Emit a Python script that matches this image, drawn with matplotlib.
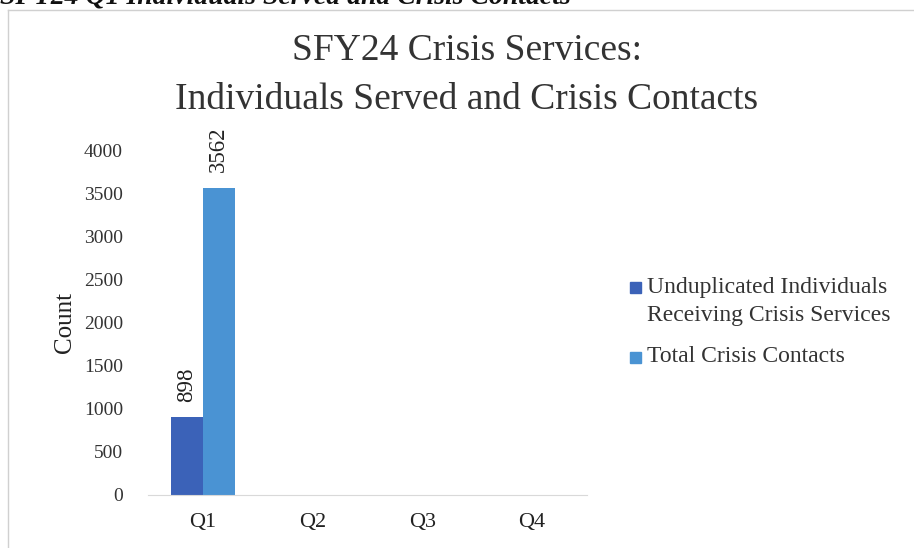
import numpy as np
import matplotlib.pyplot as plt
from matplotlib.patches import Rectangle

quarters = ['Q1', 'Q2', 'Q3', 'Q4']
individuals = [898, 0, 0, 0]
contacts = [3562, 0, 0, 0]
series_names = ['Unduplicated Individuals\nReceiving Crisis Services', 'Total Crisis Contacts']
yticks = [0, 500, 1000, 1500, 2000, 2500, 3000, 3500, 4000]

plt.rcParams['font.family'] = ['Liberation Serif', 'DejaVu Serif']

fig = plt.figure(figsize=(9.14, 5.48), dpi=100)
ax = fig.add_axes([0.162, 0.097, 0.48, 0.629])

x = np.arange(len(quarters))
w = 0.29
colors = ['#3b62b8', '#4a93d3']
b1 = ax.bar(x - w / 2, individuals, w, color=colors[0])
b2 = ax.bar(x + w / 2, contacts, w, color=colors[1])

# value labels only where there is a bar
for bars, vals in ((b1, individuals), (b2, contacts)):
    for r, v in zip(bars, vals):
        if v > 0:
            ax.text(r.get_x() + r.get_width() / 2, v + 180, str(v), rotation=90,
                    ha='center', va='bottom', fontsize=16.5, color='#222222')

ax.set_xlim(-0.5, 3.5)
ax.set_ylim(0, 4000)
ax.set_xticks(x)
ax.set_xticklabels(quarters, fontsize=16, color='#222222')
ax.set_yticks(yticks)
ax.set_yticklabels([str(t) for t in yticks], fontsize=14, color='#333333')
ax.tick_params(axis='both', length=0)
ax.tick_params(axis='x', pad=13)
ax.tick_params(axis='y', pad=18)
for s in ['top', 'right', 'left']:
    ax.spines[s].set_visible(False)
ax.spines['bottom'].set_color('#d9d9d9')
ax.set_ylabel('Count', fontsize=18, color='#222222', labelpad=6)

# legend: square beside the first line of each entry
W, H = fig.get_size_inches() * fig.dpi
entry_y = [287, 357]
line_gap = 29
for name, col, y0 in zip(series_names, colors, entry_y):
    fig.add_artist(Rectangle((630 / W, 1 - (y0 + 5.5) / H), 11 / W, 11 / H,
                             transform=fig.transFigure, color=col))
    for i, line in enumerate(name.split('\n')):
        fig.text(647 / W, 1 - (y0 + i * line_gap) / H, line, ha='left', va='center',
                 fontsize=17, color='#333333')

fig.text(0.511, 0.863, 'SFY24 Crisis Services:\nIndividuals Served and Crisis Contacts',
         ha='center', va='center', fontsize=27, color='#333333', linespacing=1.55)

# page heading cut off above the chart frame
fig.text(0.0, 1.005, 'SFY24 Q1 Individuals Served and Crisis Contacts', ha='left',
         va='center', fontsize=20, fontweight='bold', fontstyle='italic', color='#111111')

# chart frame edges
fig.add_artist(plt.Line2D([0.009, 0.009], [0.0, 0.981], color='#d0d0d0', lw=1))
fig.add_artist(plt.Line2D([0.009, 1.0], [0.981, 0.981], color='#d0d0d0', lw=1))

fig.savefig('out.png', dpi=100)
